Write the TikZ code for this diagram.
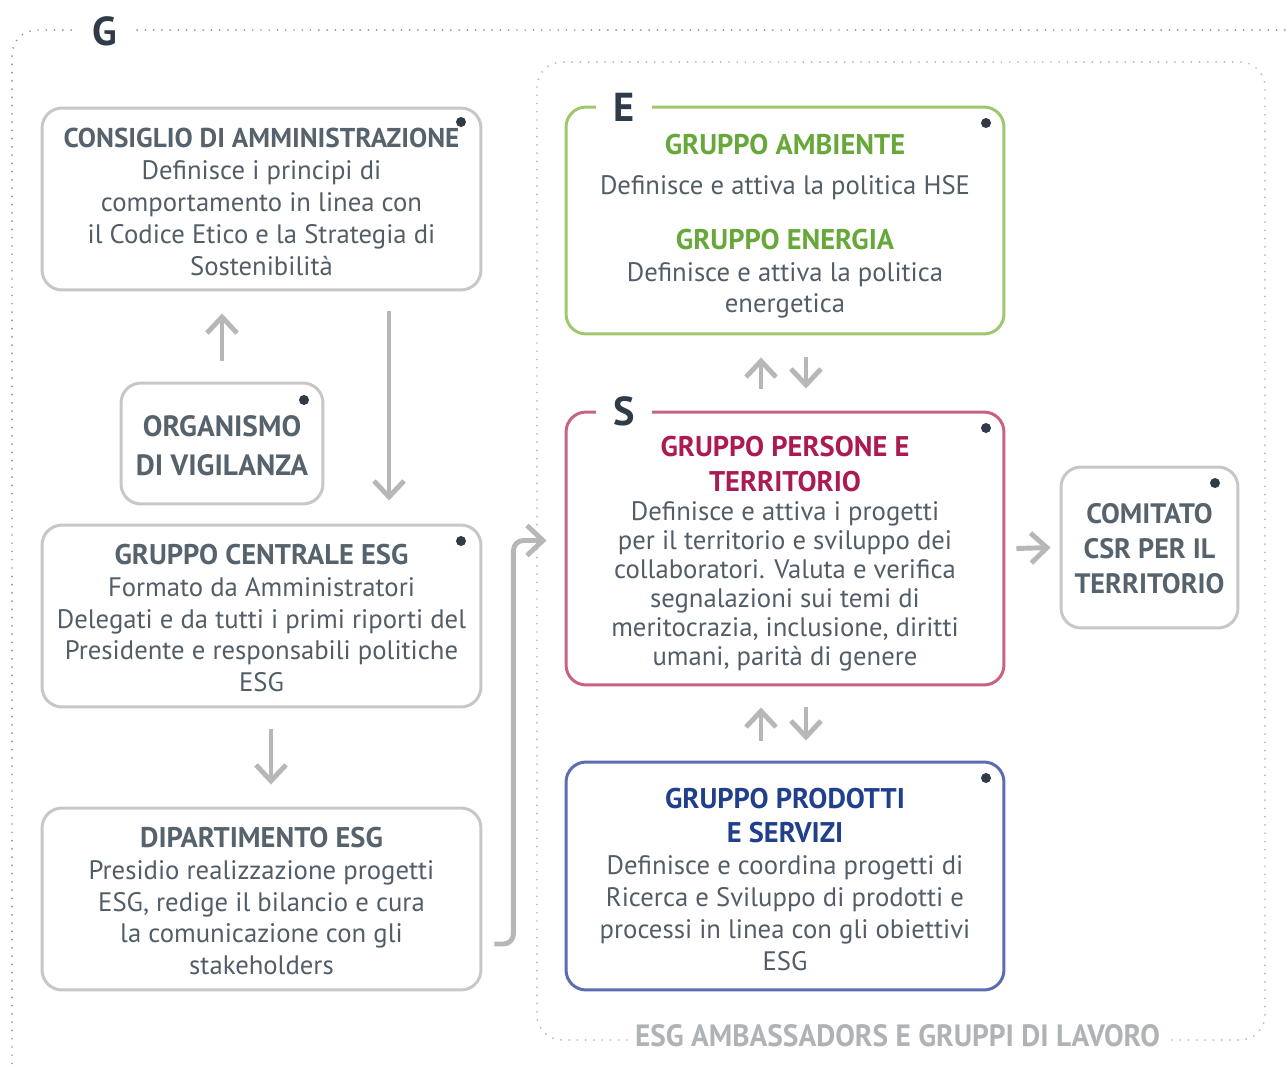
\documentclass[tikz,border=0pt]{standalone}
\usepackage{fontspec}
\setmainfont{PT Sans}
\usetikzlibrary{arrows.meta,calc}
\definecolor{boxgray}{HTML}{C5C7C9}
\definecolor{titlegray}{HTML}{56626C}
\definecolor{bodycol}{HTML}{525D67}
\definecolor{dotcol}{HTML}{2F3B46}
\definecolor{arrgray}{HTML}{B6B7B9}
\definecolor{outerdot}{HTML}{8C949B}
\definecolor{innerdot}{HTML}{B3B8BC}
\definecolor{envline}{HTML}{A0C76C}
\definecolor{envtext}{HTML}{68A83A}
\definecolor{socline}{HTML}{C9627F}
\definecolor{soctext}{HTML}{AB1A52}
\definecolor{prodline}{HTML}{5B6DB0}
\definecolor{prodtext}{HTML}{203F8C}
\definecolor{labelgray}{HTML}{B0B3B6}
\newcommand\hd[2]{{\bfseries\fontsize{16.2}{18}\selectfont\color{#1}#2}}
\begin{document}
\begin{tikzpicture}[x=0.02cm,y=-0.02cm,
  box/.style={draw=boxgray, line width=1.7pt, rounded corners=0.4cm, inner sep=0pt},
  txt/.style={align=center, text=bodycol, font=\fontsize{15.2}{18.1}\selectfont, inner sep=0pt},
  bigtxt/.style={align=center, text=titlegray, inner sep=0pt},
  arr/.style={draw=arrgray, line width=2.8pt, -{Straight Barb[length=0.32cm,width=0.6cm]}},
  pin/.style={circle, fill=dotcol, minimum size=0.2cm, inner sep=0pt},
  letter/.style={fill=white, text=dotcol, font=\bfseries\fontsize{23}{23}\selectfont, inner sep=0pt, minimum width=1.12cm, minimum height=0.8cm},
  dots/.style={line width=1.1pt, line cap=round, dash pattern=on 0pt off 4.7pt}
]
\useasboundingbox (0,0) rectangle (1286,1065);

% outer G frame
\draw[dots, draw=outerdot, rounded corners=0.5cm] (12,1080) -- (12,30) -- (1300,30);
\node[letter, minimum width=1.14cm] (G) at (105,31) {G};

% inner dotted frame
\draw[dots, draw=innerdot, rounded corners=0.5cm] (537,62) rectangle (1265,1040);
\node[fill=white, inner xsep=0.12cm, inner ysep=0.05cm, text=labelgray] (lab) at (897.5,1036)
  {\resizebox{10.5cm}{0.44cm}{\bfseries ESG AMBASSADORS E GRUPPI DI LAVORO}};

% left boxes
\node[box, minimum width=8.78cm, minimum height=3.64cm] (cons) at (261.5,199) {};
\node[box, minimum width=4.04cm, minimum height=2.42cm] (org) at (222,443.5) {};
\node[box, minimum width=8.78cm, minimum height=3.64cm] (cen) at (261.5,616) {};
\node[box, minimum width=8.78cm, minimum height=3.64cm] (dip) at (261.5,899) {};

% right boxes
\node[box, draw=envline, minimum width=8.76cm, minimum height=4.54cm] (env) at (785,220.5) {};
\node[box, draw=socline, minimum width=8.76cm, minimum height=5.46cm] (soc) at (785,548.5) {};
\node[box, draw=prodline, minimum width=8.76cm, minimum height=4.56cm] (prod) at (785,876) {};
\node[box, minimum width=3.54cm, minimum height=3.22cm] (csr) at (1149.5,547.5) {};

\node[letter] (E) at (624,107) {E};
\node[letter] (S) at (624,411) {S};

% pins
\node[pin] (p1) at (461,122) {};
\node[pin] (p2) at (304,400) {};
\node[pin] (p3) at (461,541) {};
\node[pin] (p4) at (986,123) {};
\node[pin] (p5) at (986,428) {};
\node[pin] (p6) at (986,778) {};
\node[pin] (p7) at (1215,483) {};

% texts
\node[txt] (tcons) at ($(cons.center)+(0,3)$) {{\bfseries\fontsize{15.5}{18}\selectfont\color{titlegray}CONSIGLIO DI AMMINISTRAZIONE}\\ Definisce i principi di\\ comportamento in linea con\\ il Codice Etico e la Strategia di\\ Sostenibilità};
\node[bigtxt, font=\bfseries\fontsize{16.7}{22.1}\selectfont] (torg) at ($(org.center)+(0,2)$) {ORGANISMO\\ DI VIGILANZA};
\node[txt] (tcen) at ($(cen.center)+(0,2)$) {\hd{titlegray}{GRUPPO CENTRALE ESG}\\ Formato da Amministratori\\ Delegati e da tutti i primi riporti del\\ Presidente e responsabili politiche\\ ESG};
\node[txt] (tdip) at ($(dip.center)+(0,2)$) {\hd{titlegray}{DIPARTIMENTO ESG}\\ Presidio realizzazione progetti\\ ESG, redige il bilancio e cura\\ la comunicazione con gli\\ stakeholders};
\node[txt] (tenv) at ($(env.center)+(0,6)$) {\hd{envtext}{GRUPPO AMBIENTE}\\[4.6pt] Definisce e attiva la politica HSE\\[13pt] \hd{envtext}{GRUPPO ENERGIA}\\ Definisce e attiva la politica\\ energetica};
\node[txt, font=\fontsize{15.2}{16.5}\selectfont] (tsoc) at ($(soc.center)+(0,5)$) {\hd{soctext}{GRUPPO PERSONE E}\\[3.4pt] \hd{soctext}{TERRITORIO}\\ Definisce e attiva i progetti\\ per il territorio e sviluppo dei\\ collaboratori. Valuta e verifica\\ segnalazioni sui temi di\\ meritocrazia, inclusione, diritti\\ umani, parità di genere};
\node[txt] (tprod) at ($(prod.center)+(0,3)$) {\hd{prodtext}{GRUPPO PRODOTTI}\\[1.7pt] \hd{prodtext}{E SERVIZI}\\ Definisce e coordina progetti di\\ Ricerca e Sviluppo di prodotti e\\ processi in linea con gli obiettivi\\ ESG};
\node[bigtxt, font=\bfseries\fontsize{16}{19.85}\selectfont] (tcsr) at ($(csr.center)+(0,1)$) {COMITATO\\ CSR PER IL\\ TERRITORIO};

% arrows
\draw[arr] ($(org.north)+(0,-21)$) -- ($(org.north |- cons.south)+(0,22)$);
\draw[arr] ($(cons.south)+(127.5,20)$) -- ($(cen.north)+(127.5,-23)$);
\draw[arr] ($(cen.south)+(9.5,21)$) -- ($(dip.north)+(9.5,-22)$);
\draw[arr, rounded corners=0.2cm] ($(dip.east)+(12,45)$) -- ++(19,0) |- ($(soc.west)+(-18,-8)$);
\draw[arr] ($(soc.north)+(-24,-22)$) -- ($(env.south)+(-24,22)$);
\draw[arr] ($(env.south)+(21,22)$) -- ($(soc.north)+(21,-22)$);
\draw[arr] ($(prod.north)+(-24,-20)$) -- ($(soc.south)+(-24,21)$);
\draw[arr] ($(soc.south)+(21,21)$) -- ($(prod.north)+(21,-20)$);
\draw[arr] ($(soc.east)+(11,0)$) -- ($(csr.west)+(-9,0)$);
\end{tikzpicture}
\end{document}
